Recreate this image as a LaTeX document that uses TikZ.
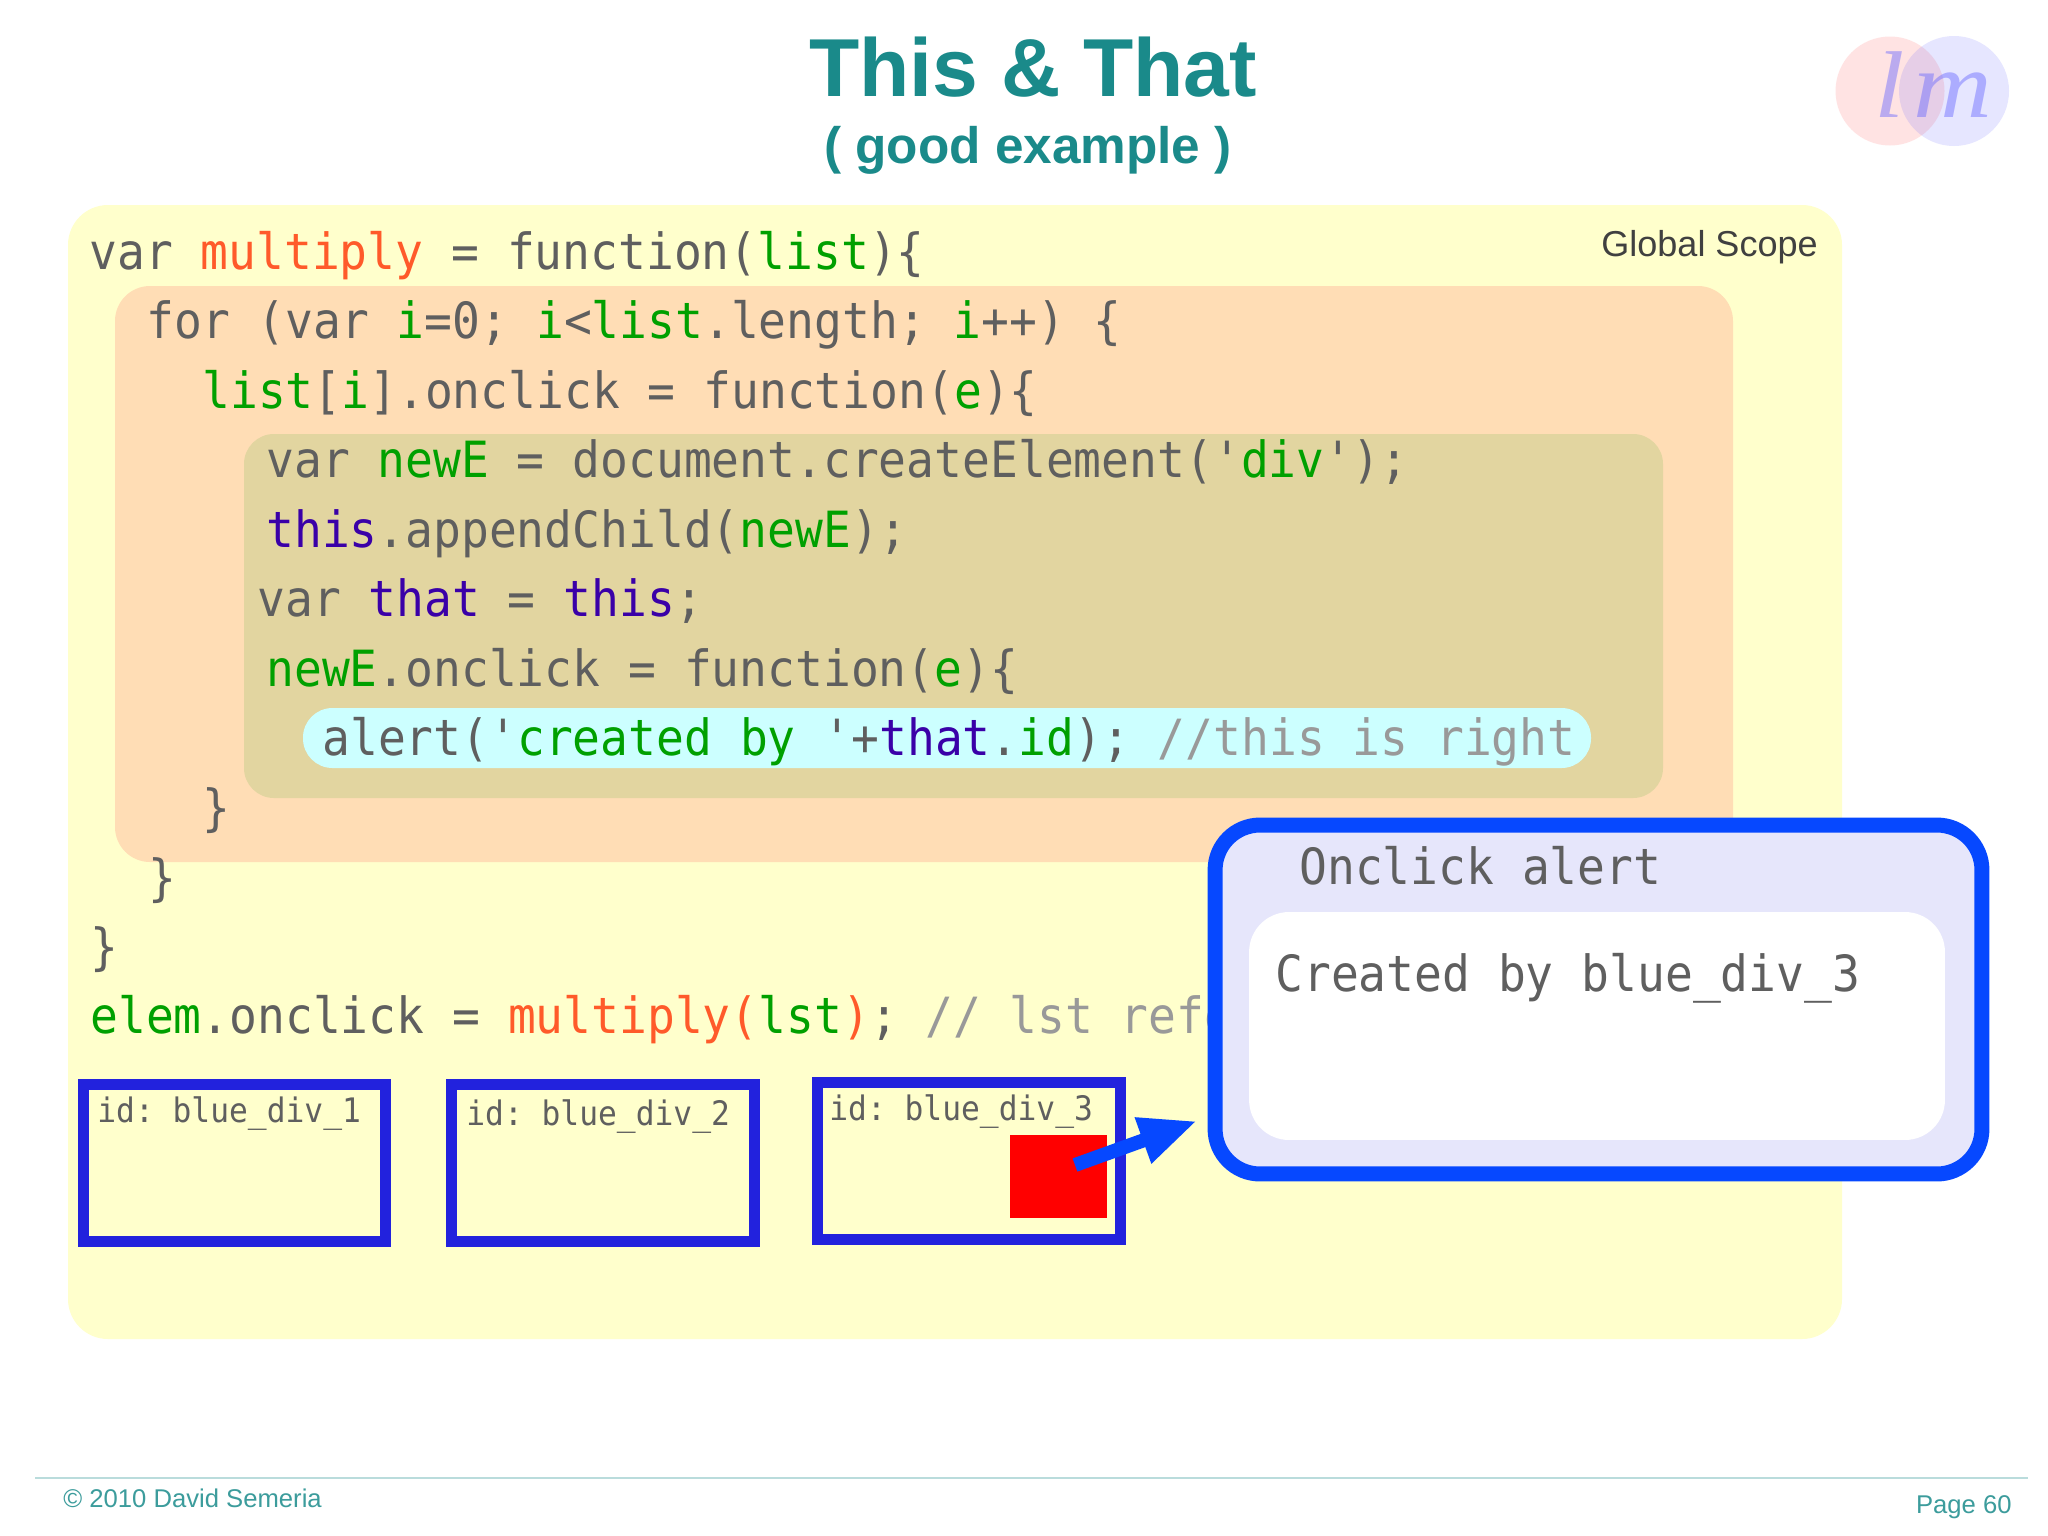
\documentclass[tikz,border=0pt]{standalone}
\usepackage{fontspec}
\setmainfont{Liberation Sans}
\newfontfamily\codefont[FakeStretch=0.927]{DejaVu Sans Mono}
\newfontfamily\logofont[FakeStretch=1.15]{Liberation Serif}
\usepackage{tikz}
\usetikzlibrary{arrows.meta, positioning}
\definecolor{panelyellow}{HTML}{FFFFCC}
\definecolor{panelorange}{HTML}{FFDDB5}
\definecolor{panelkhaki}{HTML}{E2D5A0}
\definecolor{panelcyan}{HTML}{CCFFFF}
\definecolor{popfill}{HTML}{E6E6FB}
\definecolor{popblue}{HTML}{0648FF}
\definecolor{divblue}{HTML}{2222DD}
\definecolor{titleteal}{HTML}{1A8A8A}
\definecolor{codegray}{HTML}{5F5F5F}
\definecolor{codegreen}{HTML}{00A000}
\definecolor{codeorange}{HTML}{FF5A2A}
\definecolor{codepurple}{HTML}{3A00A8}
\definecolor{codenote}{HTML}{999999}
\newcommand{\cgr}[1]{\textcolor{codegreen}{#1}}
\newcommand{\cor}[1]{\textcolor{codeorange}{#1}}
\newcommand{\cpu}[1]{\textcolor{codepurple}{#1}}
\newcommand{\cno}[1]{\textcolor{codenote}{#1}}

\begin{document}
\begin{tikzpicture}[
  x=0.02cm, y=-0.02cm,
  code/.style={anchor=base west, inner sep=0pt, text=codegray, font=\codefont\fontsize{28.4}{28.4}\selectfont\frenchspacing},
  divlabel/.style={anchor=base west, inner sep=0pt, text=codegray, font=\codefont\fontsize{19.2}{19.2}\selectfont\frenchspacing},
  divbox/.style={draw=divblue, fill=panelyellow, line width=0.22cm, minimum width=6.06cm, minimum height=3.14cm, inner sep=0pt},
  foot/.style={inner sep=0pt, text=titleteal!85!white, font=\fontsize{14.6}{14.6}\selectfont}
]
\useasboundingbox (0,0) rectangle (2048,1535);
\fill[white] (0,0) rectangle (2048,1535);

\node[anchor=base, inner sep=0pt, text=titleteal, font=\bfseries\fontsize{46.8}{46.8}\selectfont] (title) at (1033,96) {This \& That};
\node[anchor=base, inner sep=0pt, text=titleteal, font=\bfseries\fontsize{29.2}{29.2}\selectfont] (subtitle) at (1028,163) {( good example )};

\fill[red!60!white, opacity=0.18] (1890,91) circle (54.5);
\fill[blue!60!white, opacity=0.16] (1954,91) circle (55);
\node[anchor=base west, inner sep=0pt, text=blue!60!white, text opacity=0.45, font=\logofont\itshape\fontsize{54}{54}\selectfont] (logo) at (1874,117) {l\kern 5pt m};

\fill[panelyellow, rounded corners=0.8cm] (68,205) rectangle (1842,1339);
\fill[panelorange, rounded corners=0.7cm] (115,286) rectangle (1733,862);
\fill[panelkhaki, rounded corners=0.6cm] (244,434) rectangle (1663,798);
\fill[panelcyan, rounded corners=0.59cm] (303,708) rectangle (1591,768);

\node[anchor=base east, inner sep=0pt, text=black!75, font=\fontsize{20.5}{20.5}\selectfont] (scope) at (1818,256) {Global Scope};

\node[code] (l1) at (89,269) {var \cor{multiply} = function(\cgr{list})\{};
\node[code] (l2) at (146,338) {for (var \cgr{i}=0; \cgr{i}<\cgr{list}.length; \cgr{i}++) \{};
\node[code] (l3) at (202,408) {\cgr{list}[\cgr{i}].onclick = function(\cgr{e})\{};
\node[code] (l4) at (266,477) {var \cgr{newE} = document.createElement('\cgr{div}');};
\node[code] (l5) at (266,547) {\cpu{this}.appendChild(\cgr{newE});};
\node[code] (l6) at (257,616) {var \cpu{that} = \cpu{this};};
\node[code] (l7) at (266,686) {\cgr{newE}.onclick = function(\cgr{e})\{};
\node[code] (l8) at (322,755) {alert('\cgr{created by }'+\cpu{that}.\cgr{id}); \cno{//this is right}};
\node[code] (l9) at (202,825) {\}};
\node[code] (l10) at (148,895) {\}};
\node[code] (l11) at (90,964) {\}};
\node[code] (l12) at (90,1033) {\cgr{elem}.onclick = \cor{multiply(}\cgr{lst}\cor{)}; \cno{// lst refer}};

\node[divbox] (div1) at (234.5,1163) {};
\node[divbox] (div2) at (603,1163) {};
\node[divbox] (div3) at (969,1161) {};
\node[divlabel] (lab1) at (97,1122) {id: blue\_div\_1};
\node[divlabel] (lab2) at (466,1125) {id: blue\_div\_2};
\node[divlabel] (lab3) at (829,1120) {id: blue\_div\_3};
\node[fill=red, inner sep=0pt, minimum width=1.94cm, minimum height=1.66cm] (redsq) at (1058.5,1176.5) {};

\node[draw=popblue, fill=popfill, line width=0.3cm, rounded corners=0.9cm, inner sep=0pt, minimum width=15.34cm, minimum height=6.98cm] (popup) at (1598.5,999.5) {};
\node[fill=white, rounded corners=0.8cm, inner sep=0pt, minimum width=13.92cm, minimum height=4.56cm] (popbody) at (1597,1026) {};
\node[code] (poptitle) at (1299,884) {Onclick alert};
\node[code] (poptext) at (1275,991) {Created by blue\_div\_3};

\coordinate (arrowtail) at (1075,1165);
\coordinate (arrowtip) at (1197,1121);
\draw[popblue, line width=0.28cm, -{Triangle[length=1.15cm, width=0.9cm]}] (arrowtail) -- (arrowtip);

\draw[titleteal!30!white, line width=0.6pt] (35,1478) -- (2028,1478);
\node[foot, anchor=base west] (copyright) at (63,1507) {© 2010 David Semeria};
\node[foot, anchor=base east] (pagenum) at (2012,1513) {Page 60};
\end{tikzpicture}
\end{document}
